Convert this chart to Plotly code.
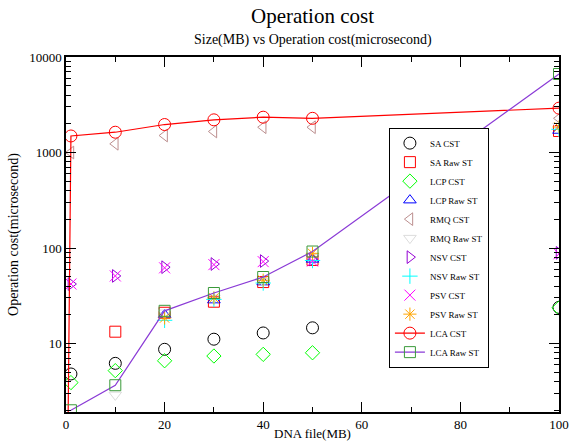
import plotly.graph_objects as go

# ---- data ----
x_mb = [1, 10, 20, 30, 40, 50, 100]

sa_cst = [4.8, 6.2, 8.7, 11.1, 12.9, 14.6, 23.9]
sa_raw = [None, 13.3, 21, 27.4, 44, 75, 1680]
lcp_cst = [3.9, 5.2, 6.6, 7.4, 7.7, 8.0, 23.6]
lcp_raw = [None, None, 20, 28.5, 44, 76, 1700]
rmq_cst = [1000, 1233, 1506, 1660, 1840, 1840, 2280]
rmq_raw = [None, 2.9, 21, 30, 45, 80, 1900]
nsv_cst = [42, 51, 63, 68, 73, 76, 89]
nsv_raw = [None, None, 17.5, 29, 43, 74, 1750]
psv_cst = [42, 51, 62, 67, 72, 73, 87]
psv_raw = [None, None, 18.5, 30, 46, 88, 1850]

lca_cst_x = [0, 1, 10, 20, 30, 40, 50, 100]
lca_cst = [0.01, 1490, 1631, 1963, 2198, 2343, 2280, 2914]
lca_raw_x = [1, 10, 20, 30, 40, 50, 100]
lca_raw = [2.0, 3.66, 22, 33.8, 49.7, 91.9, 6637]

y_major_ticks = [10, 100, 1000, 10000]
y_minor_ticks = [m * d for d in [1, 10, 100, 1000] for m in range(2, 10)]

FONT = "Liberation Serif, Times New Roman, serif"

fig = go.Figure()

def mk(name, xs, ys, symbol, color, mode="markers", line_color=None, size=11):
    tr = go.Scatter(
        x=xs, y=ys, name=name, mode=mode,
        marker=dict(symbol=symbol, size=size, color=color,
                    line=dict(color=color, width=1)),
        cliponaxis=True,
    )
    if line_color:
        tr.line = dict(color=line_color, width=1.2)
    fig.add_trace(tr)

mk("SA CST", x_mb, sa_cst, "circle-open", "black", size=12)
mk("SA Raw ST", x_mb, sa_raw, "square-open", "#ff0000")
mk("LCP CST", x_mb, lcp_cst, "diamond-open", "#00ff00")
mk("LCP Raw ST", x_mb, lcp_raw, "triangle-up-open", "#0000ff")
mk("RMQ CST", x_mb, rmq_cst, "triangle-left-open", "#bc8f8f")
mk("RMQ Raw ST", x_mb, rmq_raw, "triangle-down-open", "#dcdcdc")
mk("NSV CST", x_mb, nsv_cst, "triangle-right-open", "#9400d3")
mk("NSV Raw ST", x_mb, nsv_raw, "cross-thin-open", "#00ffff")
mk("PSV CST", x_mb, psv_cst, "x-thin-open", "#ff00ff")
mk("PSV Raw ST", x_mb, psv_raw, "asterisk-open", "#ffa500")
mk("LCA CST", lca_cst_x, lca_cst, "circle-open", "#ff0000",
   mode="lines+markers", line_color="#ff0000", size=12)
mk("LCA Raw ST", lca_raw_x, lca_raw, "square-open", "#3a9a3a",
   mode="lines+markers", line_color="#8a3ad6")

fig.update_layout(
    width=570, height=441,
    margin=dict(l=66, r=11, t=57, b=29, autoexpand=False),
    paper_bgcolor="white", plot_bgcolor="white",
    font=dict(family=FONT, size=13, color="black"),
    title=dict(text="Operation cost", x=0.5, xref="paper",
               y=1 - 16 / 441, yref="container", yanchor="middle",
               font=dict(family=FONT, size=21, color="black")),
    annotations=[dict(text="Size(MB) vs Operation cost(microsecond)",
                      xref="paper", yref="paper", x=0.5,
                      y=1 + (57 - 40) / 355, yanchor="middle",
                      showarrow=False,
                      font=dict(family=FONT, size=14, color="black"))],
    showlegend=True,
    legend=dict(x=0.655, xanchor="left", y=0.463, yanchor="middle",
                bgcolor="white", bordercolor="black", borderwidth=1,
                font=dict(family=FONT, size=9, color="black"),
                tracegroupgap=0, itemwidth=30),
)

fig.update_xaxes(
    range=[0, 100], dtick=20, tick0=0,
    showgrid=False, zeroline=False,
    showline=True, linecolor="black", linewidth=1.5, mirror="ticks",
    ticks="inside", ticklen=10, tickwidth=1, tickcolor="black",
    minor=dict(dtick=10, ticks="inside", ticklen=5, tickwidth=1,
               tickcolor="black", showgrid=False),
    tickfont=dict(family=FONT, size=13, color="black"),
    title=dict(text="DNA file(MB)", standoff=2,
               font=dict(family=FONT, size=13, color="black")),
)

fig.update_yaxes(
    type="log", range=[0.283, 4],
    tickmode="array", tickvals=y_major_ticks,
    ticktext=[str(v) for v in y_major_ticks],
    showgrid=False, zeroline=False,
    showline=True, linecolor="black", linewidth=1.5, mirror="ticks",
    ticks="inside", ticklen=10, tickwidth=1, tickcolor="black",
    minor=dict(tickmode="array", tickvals=y_minor_ticks, ticks="inside",
               ticklen=5, tickwidth=1, tickcolor="black", showgrid=False),
    tickfont=dict(family=FONT, size=13, color="black"),
    title=dict(text="Operation cost(microsecond)", standoff=7,
               font=dict(family=FONT, size=14, color="black")),
)

fig.write_html("out.html",
               config={"displayModeBar": False},
               post_script="document.body.style.margin='0';"
                           "document.body.style.overflow='hidden';")
